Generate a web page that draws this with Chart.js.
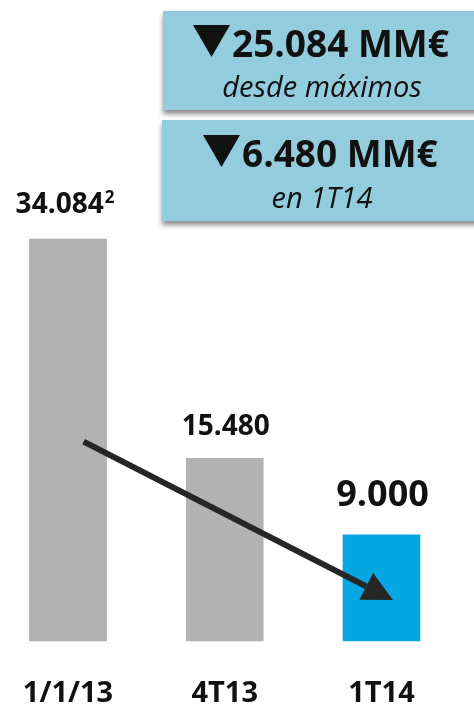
<!DOCTYPE html>
<html>
<head>
<meta charset="utf-8">
<script src="https://cdn.jsdelivr.net/npm/chart.js@4.4.0/dist/chart.umd.min.js"></script>
<style>
  html, body { margin: 0; padding: 0; background: #ffffff; }
  #deudaChart { display: block; }
</style>
</head>
<body>
<canvas id="deudaChart" width="474" height="704"></canvas>
<script>
// data
var periodos = ['1/1/13', '4T13', '1T14'];
var deuda = [34084, 15480, 9000];
var etiquetasValor = ['34.084', '15.480', '9.000'];
var notasValor = ['2', '', ''];
var coloresBarra = ['#b2b2b2', '#b2b2b2', '#05a6e2'];

var recuadroCifras = ['25.084 MM\u20ac', '6.480 MM\u20ac'];
var recuadroTextos = ['desde m\u00e1ximos', 'en 1T14'];

// arrow from / to, in data units (category index, value)
var flechaDesde = [0.1, 16900];
var flechaHasta = [2.073, 3476];

var yMax = 54350;
var fuente = "'Open Sans', 'DejaVu Sans', sans-serif";

document.addEventListener('DOMContentLoaded', function () {
    var ctxEl = document.getElementById('deudaChart');

    var etiquetasPlugin = {
        id: 'etiquetas',
        afterDatasetsDraw: function (chart) {
            var ctx = chart.ctx;
            var meta = chart.getDatasetMeta(0);
            ctx.save();
            ctx.fillStyle = '#111111';
            ctx.textBaseline = 'alphabetic';
            meta.data.forEach(function (bar, i) {
                var grande = i === deuda.length - 1;
                var size = grande ? 36 : 28;
                var gap = grande ? 29 : (i === 0 ? 26 : 23);
                ctx.font = 'bold ' + size + 'px ' + fuente;
                var w = ctx.measureText(etiquetasValor[i]).width;
                var nota = notasValor[i];
                var wn = 0;
                if (nota) {
                    ctx.font = 'bold 17px ' + fuente;
                    wn = ctx.measureText(nota).width + 1;
                }
                var x0 = bar.x - (w + wn) / 2 + (nota ? -3 : 1);
                ctx.font = 'bold ' + size + 'px ' + fuente;
                ctx.textAlign = 'left';
                ctx.fillText(etiquetasValor[i], x0, bar.y - gap);
                if (nota) {
                    ctx.font = 'bold 17px ' + fuente;
                    ctx.fillText(nota, x0 + w + 1, bar.y - gap - 10);
                }
            });
            ctx.restore();
        }
    };

    var flechaPlugin = {
        id: 'flecha',
        afterDatasetsDraw: function (chart) {
            var ctx = chart.ctx;
            var xs = chart.scales.x;
            var ys = chart.scales.y;
            var x1 = xs.getPixelForValue(flechaDesde[0]);
            var y1 = ys.getPixelForValue(flechaDesde[1]);
            var x2 = xs.getPixelForValue(flechaHasta[0]);
            var y2 = ys.getPixelForValue(flechaHasta[1]);
            var ang = Math.atan2(y2 - y1, x2 - x1);
            var largo = 30, ancho = 30;
            var bx = x2 - largo * Math.cos(ang);
            var by = y2 - largo * Math.sin(ang);
            ctx.save();
            ctx.strokeStyle = '#262626';
            ctx.fillStyle = '#262626';
            ctx.lineWidth = 6;
            ctx.beginPath();
            ctx.moveTo(x1, y1);
            ctx.lineTo(bx, by);
            ctx.stroke();
            ctx.beginPath();
            ctx.moveTo(x2, y2);
            ctx.lineTo(bx + (ancho / 2) * Math.sin(ang), by - (ancho / 2) * Math.cos(ang));
            ctx.lineTo(bx - (ancho / 2) * Math.sin(ang), by + (ancho / 2) * Math.cos(ang));
            ctx.closePath();
            ctx.fill();
            ctx.restore();
        }
    };

    var recuadrosPlugin = {
        id: 'recuadros',
        afterDraw: function (chart) {
            var ctx = chart.ctx;
            var cajas = [
                { x: 163, y: 11, w: 320, h: 99, tri: 193, cy: 57, ty: 97 },
                { x: 162, y: 120, w: 320, h: 101, tri: 203, cy: 167, ty: 208 }
            ];
            cajas.forEach(function (c, i) {
                ctx.save();
                ctx.shadowColor = 'rgba(0,0,0,0.45)';
                ctx.shadowBlur = 5;
                ctx.shadowOffsetY = 4;
                ctx.shadowOffsetX = 0;
                ctx.fillStyle = '#93cddd';
                ctx.fillRect(c.x, c.y, c.w, c.h);
                ctx.restore();

                ctx.save();
                ctx.fillStyle = '#111111';
                // down triangle
                ctx.beginPath();
                ctx.moveTo(c.tri, c.cy - 32);
                ctx.lineTo(c.tri + 37, c.cy - 32);
                ctx.lineTo(c.tri + 18.5, c.cy);
                ctx.closePath();
                ctx.fill();
                ctx.font = 'bold 37px ' + fuente;
                ctx.textAlign = 'left';
                ctx.textBaseline = 'alphabetic';
                ctx.fillText(recuadroCifras[i], c.tri + 39, c.cy);
                ctx.font = 'italic 29px ' + fuente;
                ctx.textAlign = 'center';
                ctx.fillText(recuadroTextos[i], 322, c.ty);
                ctx.restore();
            });
        }
    };

    var chart = new Chart(ctxEl, {
        type: 'bar',
        data: {
            labels: periodos,
            datasets: [{
                data: deuda,
                backgroundColor: coloresBarra,
                borderWidth: 0,
                barThickness: 77,
                clip: false
            }]
        },
        options: {
            responsive: false,
            maintainAspectRatio: false,
            animation: false,
            events: [],
            layout: {
                padding: { left: 68, right: 92.5, top: 0, bottom: 0 }
            },
            plugins: {
                legend: { display: false },
                tooltip: { enabled: false }
            },
            scales: {
                x: {
                    offset: false,
                    grid: { display: false, drawTicks: false },
                    border: { display: false },
                    ticks: {
                        color: '#111111',
                        padding: 35,
                        font: { family: fuente, size: 29, weight: 'bold' },
                        maxRotation: 0,
                        autoSkip: false
                    },
                    afterFit: function (scale) {
                        scale.height = 63;
                        scale.paddingLeft = 0;
                        scale.paddingRight = 0;
                    }
                },
                y: {
                    display: false,
                    min: 0,
                    max: yMax
                }
            }
        },
        plugins: [flechaPlugin, etiquetasPlugin, recuadrosPlugin]
    });
});
</script>
</body>
</html>
